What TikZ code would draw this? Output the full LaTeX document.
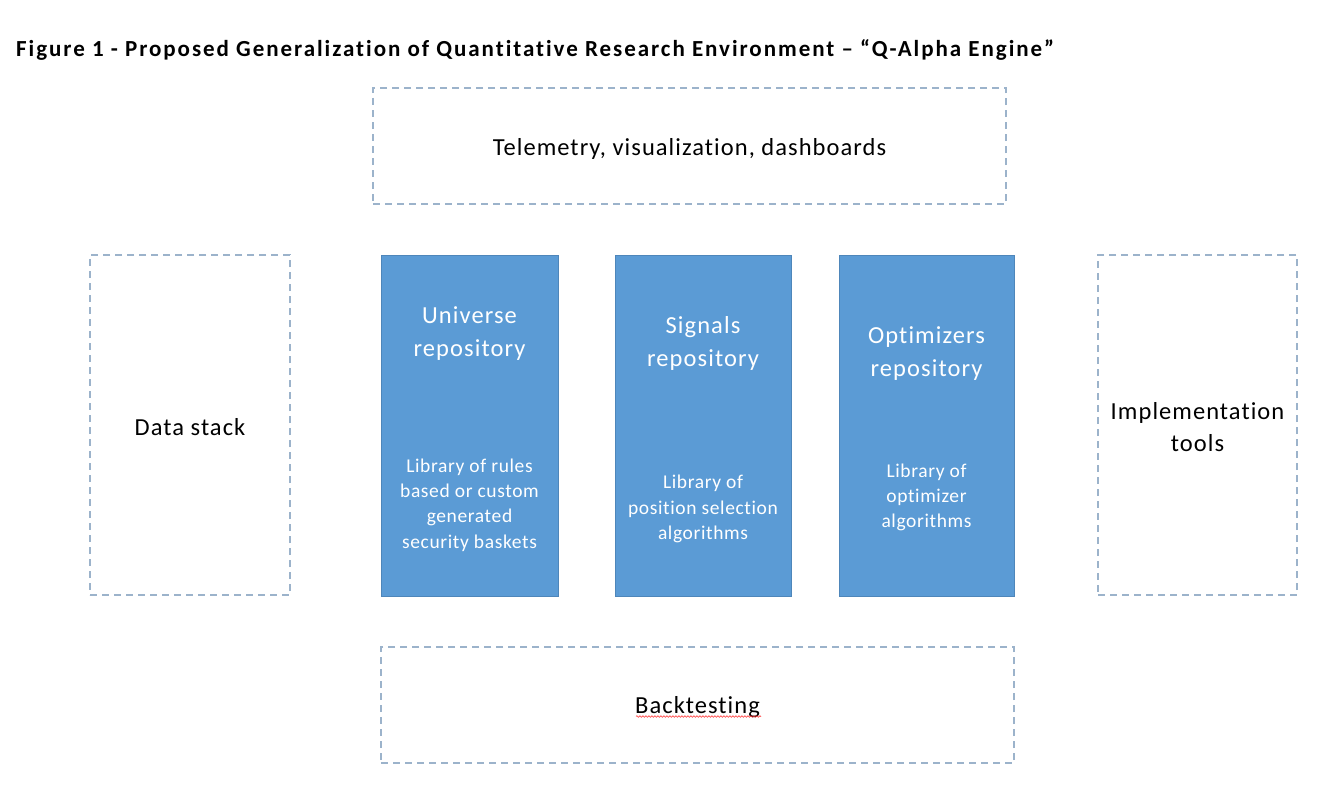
\documentclass[tikz,border=0pt]{standalone}
\usepackage{fontspec}
\setmainfont{Carlito}[Ligatures=NoCommon]
\usetikzlibrary{decorations.pathmorphing}
\definecolor{dashblue}{HTML}{9CB3CB}
\definecolor{repofill}{HTML}{5B9BD5}
\definecolor{repoedge}{HTML}{4E86BA}
\tikzset{
  dashbox/.style={draw=dashblue, line width=1.6pt, dash pattern=on 7pt off 5pt, fill=white, rectangle, inner sep=0pt},
  repobox/.style={draw=repoedge, line width=1pt, fill=repofill, rectangle, inner sep=0pt},
  bigtext/.style={font=\fontsize{24.5}{32}\selectfont\addfontfeatures{LetterSpace=4.3}, align=center, text=black, inner sep=0pt},
  repotitle/.style={font=\fontsize{24.5}{33}\selectfont\addfontfeatures{LetterSpace=4.5}, align=center, text=white, inner sep=0pt},
  reposub/.style={font=\fontsize{19.5}{25.3}\selectfont\addfontfeatures{LetterSpace=3.2}, align=center, text=white, inner sep=0pt},
  titletext/.style={font=\fontsize{23}{24}\selectfont\bfseries\addfontfeatures{LetterSpace=8.5}, anchor=base west, inner sep=0pt},
}
\begin{document}
\begin{tikzpicture}[x=1pt, y=-1pt]
\useasboundingbox (0,0) rectangle (1336,792);
\fill[white] (0,0) rectangle (1336,792);

\node[titletext] (title) at (16,57) {Figure 1 - Proposed Generalization of Quantitative Research Environment – “Q-Alpha Engine”};

% top box
\node[dashbox, minimum width=633pt, minimum height=116pt] (tele) at (689.5,146) {};
\node[bigtext] (teletxt) at (689.5,149) {Telemetry, visualization, dashboards};

% side boxes
\node[dashbox, minimum width=200pt, minimum height=340pt] (data) at (190,425) {};
\node[bigtext] (datatxt) at (190,427) {Data stack};

\node[dashbox, minimum width=199pt, minimum height=340pt] (impl) at (1197.5,425) {};
\node[bigtext] (impltxt) at (1197.5,427) {Implementation\\tools};

% repositories
\node[repobox, minimum width=177pt, minimum height=341pt] (univ) at (469.5,425.5) {};
\node[repotitle] (univt) at (469.5,334) {Universe\\repository};
\node[reposub] (univs) at (469.5,505) {Library of rules\\based or custom\\generated\\security baskets};

\node[repobox, minimum width=176pt, minimum height=341pt] (sig) at (703,425.5) {};
\node[repotitle] (sigt) at (703,343) {Signals\\repository};
\node[reposub] (sigs) at (703,509) {Library of\\position selection\\algorithms};

\node[repobox, minimum width=175pt, minimum height=341pt] (opt) at (926.5,425.5) {};
\node[repotitle] (optt) at (926.5,354) {Optimizers\\repository};
\node[reposub] (opts) at (926.5,497.5) {Library of\\optimizer\\algorithms};

% bottom box
\node[dashbox, minimum width=633pt, minimum height=116pt] (back) at (697.5,705) {};
\node[bigtext] (backtxt) at (697.5,707) {Backtesting};
\coordinate (sqA) at (636,716.5);
\coordinate (sqB) at (761,716.5);
\draw[red!80!white, line width=0.6pt, decorate, decoration={snake, amplitude=0.8pt, segment length=3pt}] (sqA) -- (sqB);
\end{tikzpicture}
\end{document}
